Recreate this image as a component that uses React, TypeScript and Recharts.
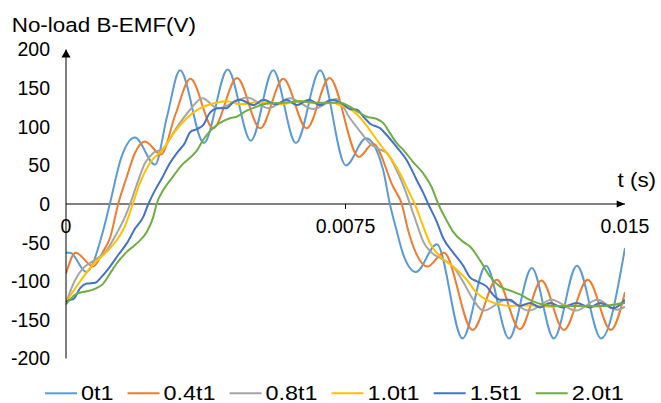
import React from 'react';
import { LineChart, Line, XAxis, YAxis, ReferenceLine, ReferenceDot } from 'recharts';

// No-load back-EMF waveforms: [time (ms), EMF (V)]
const emf0t1: [number, number][] = [
  [0, -63], [0.11, -63], [0.54, -88], [1.0, -34], [1.18, 1], [1.49, 61], [1.85, 86], [2.39, 51],
  [2.71, 113], [3.06, 173], [3.7, 79], [4.34, 174], [4.96, 82], [5.56, 173], [6.17, 79], [6.82, 173],
  [7.51, 50], [8.05, 85], [8.51, 44], [8.69, 0], [8.87, -34], [9.04, -64], [9.39, -88], [9.95, -52],
  [10.64, -174], [11.27, -80], [11.89, -174], [12.5, -83], [13.09, -174], [13.71, -80], [14.36, -174],
  [15.0, -57],
];

const emf04t1: [number, number][] = [
  [0, -90], [0.26, -63], [0.73, -81], [0.99, -62], [1.18, -44], [1.4, 0], [1.63, 35], [1.85, 66],
  [2.12, 81], [2.55, 64], [2.93, 115], [3.34, 162], [3.95, 98], [4.59, 163], [5.21, 98], [5.83, 162],
  [6.46, 98], [7.07, 163], [7.86, 61], [8.24, 78], [8.78, 22], [9.01, 0], [9.18, -34], [9.36, -60],
  [9.7, -81], [10.14, -63], [10.91, -163], [11.56, -98], [12.18, -162], [12.76, -99], [13.36, -163],
  [14.0, -98], [14.62, -163], [15.0, -114],
];

const emf08t1: [number, number][] = [
  [0, -128], [0.2, -103], [0.46, -83], [0.69, -75], [0.91, -68], [1.09, -60], [1.36, -38], [1.58, -17],
  [1.72, 0], [1.9, 25], [2.12, 53], [2.34, 66], [2.61, 72], [2.97, 99], [3.33, 122], [3.66, 137],
  [4.07, 124], [4.87, 138], [5.43, 124], [6.01, 137], [6.64, 123], [7.26, 136], [7.62, 111], [7.89, 94],
  [8.16, 78], [8.45, 70], [8.61, 66], [8.87, 44], [9.1, 18], [9.23, 0], [9.41, -25], [9.59, -49],
  [9.81, -63], [10.12, -72], [10.39, -81], [10.66, -101], [10.93, -124], [11.2, -138], [11.82, -124],
  [12.42, -138], [13.03, -124], [13.68, -138], [14.26, -124], [14.78, -137], [15.0, -133],
];

const emf10t1: [number, number][] = [
  [0, -127], [0.38, -100], [0.73, -78], [1.09, -62], [1.36, -47], [1.58, -29], [1.79, 0], [1.99, 28],
  [2.25, 53], [2.61, 71], [2.88, 91], [3.24, 111], [3.6, 124], [3.95, 130], [4.31, 133], [4.67, 129],
  [5.21, 132], [5.74, 129], [6.28, 133], [6.82, 130], [7.16, 131], [7.35, 128], [7.71, 120], [7.98, 107],
  [8.25, 89], [8.51, 72], [8.69, 61], [8.96, 40], [9.18, 18], [9.36, 0], [9.54, -23], [9.77, -51],
  [10.04, -68], [10.39, -81], [10.75, -98], [11.02, -115], [11.29, -124], [11.56, -129], [11.91, -132],
  [12.45, -131], [12.99, -133], [13.52, -131], [14.06, -133], [14.6, -131], [15.0, -127],
];

const emf15t1: [number, number][] = [
  [0, -127], [0.11, -124], [0.2, -123], [0.38, -109], [0.56, -103], [0.78, -102], [0.96, -94],
  [1.18, -81], [1.4, -66], [1.63, -51], [1.85, -32], [2.07, -17], [2.21, 0], [2.39, 18], [2.57, 33],
  [2.79, 53], [3.01, 68], [3.19, 79], [3.33, 93], [3.51, 97], [3.68, 102], [3.86, 118], [4.08, 124],
  [4.31, 124], [4.49, 132], [4.67, 135], [5.03, 128], [5.29, 135], [5.65, 129], [5.92, 135], [6.19, 128],
  [6.52, 135], [6.82, 128], [7.13, 135], [7.41, 130], [7.62, 123], [7.81, 122], [7.98, 113], [8.16, 104],
  [8.43, 98], [8.61, 89], [8.87, 74], [9.14, 57], [9.41, 31], [9.59, 14], [9.72, 0], [9.95, -23],
  [10.12, -44], [10.39, -63], [10.66, -80], [10.84, -95], [11.02, -100], [11.29, -107], [11.47, -118],
  [11.65, -124], [11.91, -124], [12.18, -132], [12.45, -128], [12.72, -134], [12.99, -128], [13.31, -134],
  [13.7, -128], [14.06, -134], [14.33, -128], [14.69, -135], [15.0, -124],
];

const emf20t1: [number, number][] = [
  [0, -130], [0.29, -116], [0.56, -113], [0.82, -109], [1.0, -103], [1.18, -90], [1.36, -77],
  [1.63, -62], [1.9, -51], [2.17, -36], [2.34, -17], [2.43, 0], [2.61, 18], [2.88, 36], [3.1, 50],
  [3.33, 60], [3.51, 69], [3.68, 83], [3.86, 94], [4.13, 105], [4.4, 111], [4.58, 113], [4.85, 121],
  [5.12, 126], [5.43, 130], [5.83, 131], [6.28, 133], [6.73, 131], [7.08, 131], [7.35, 131], [7.62, 126],
  [7.84, 119], [8.07, 113], [8.34, 110], [8.51, 105], [8.69, 92], [8.87, 79], [9.05, 70], [9.32, 54],
  [9.58, 40], [9.81, 22], [9.99, 0], [10.21, -21], [10.39, -36], [10.66, -49], [10.84, -55], [11.11, -73],
  [11.38, -94], [11.65, -107], [11.91, -112], [12.18, -117], [12.45, -124], [12.81, -130], [13.26, -132],
  [13.79, -132], [14.33, -132], [15.0, -128],
];

const seriesNames = ['0t1', '0.4t1', '0.8t1', '1.0t1', '1.5t1', '2.0t1'];
const seriesColors = ['#5B9BD5', '#ED7D31', '#A5A5A5', '#FFC000', '#4472C4', '#70AD47'];
const seriesPoints = [emf0t1, emf04t1, emf08t1, emf10t1, emf15t1, emf20t1];

const yTicks = [-200, -150, -100, -50, 0, 50, 100, 150, 200];
const xTicks = [0, 0.0075, 0.015];
const xTickLabels = ['0', '0.0075', '0.015'];

const yTitle = 'No-load B-EMF(V)';
const xTitle = 't (s)';

const FONT = '"Liberation Sans", Arial, sans-serif';
const INK = '#000';

const W = 661;
const H = 403;

const series = seriesNames.map((name, i) => ({
  name,
  color: seriesColors[i],
  data: seriesPoints[i].map(([ms, v]) => ({ t: ms / 1000, v })),
}));

// Approximate advance widths (em) for legend text layout
const charEm: Record<string, number> = { '.': 0.278, t: 0.278 };
const textEm = (s: string) => s.split('').reduce((a, c) => a + (charEm[c] ?? 0.556), 0);

const LEG_FONT = 19.5;
const LEG_SX = 1.2;
const LEG_LINE = 32;

const legendItems = (() => {
  let x = 45;
  return series.map((s) => {
    const item = { ...s, x };
    x += LEG_LINE + 4 + textEm(s.name) * LEG_FONT * LEG_SX + 14;
    return item;
  });
})();

const YArrow = (p: any) => (
  <path d={`M${p.cx},${p.cy} l-4.6,8 h9.2 z`} fill={INK} />
);

const XArrow = (p: any) => (
  <path d={`M${p.cx},${p.cy} l-8.3,-3.4 v6.8 z`} fill={INK} />
);

const makeXTick = (label: string, inner: boolean) => (p: any) => (
  <g>
    {inner && <line x1={p.cx} y1={p.cy} x2={p.cx} y2={p.cy + 5} stroke={INK} strokeWidth={1} />}
    <text x={p.cx} y={p.cy + 29} textAnchor="middle" fontSize={19.5} fontFamily={FONT} fill={INK}>
      {label}
    </text>
  </g>
);

export default function App() {
  return (
    <div style={{ position: 'absolute', left: 0, top: 0, width: W, height: H, background: '#fff' }}>
      <LineChart width={W} height={H} margin={{ top: 49.5, right: 36, bottom: 44.5, left: 0 }}>
        <XAxis type="number" dataKey="t" domain={[0, 0.015]} ticks={xTicks} allowDataOverflow hide />
        <YAxis
          type="number"
          domain={[-200, 200]}
          ticks={yTicks}
          interval={0}
          width={66}
          allowDataOverflow
          axisLine={{ stroke: INK, strokeWidth: 1 }}
          tickLine={false}
          tickMargin={10}
          tick={{ fontSize: 19.5, fill: INK, fontFamily: FONT }}
        />
        <ReferenceLine y={0} stroke={INK} strokeWidth={1} />
        {series.map((s) => (
          <Line
            key={s.name}
            name={s.name}
            data={s.data}
            dataKey="v"
            type="monotone"
            stroke={s.color}
            strokeWidth={2}
            dot={false}
            activeDot={false}
            isAnimationActive={false}
          />
        ))}
        {xTicks.map((t, i) => (
          <ReferenceDot
            key={t}
            x={t}
            y={0}
            r={0}
            shape={makeXTick(xTickLabels[i], i > 0 && i < xTicks.length - 1)}
          />
        ))}
        <ReferenceDot x={0} y={200} r={0} shape={YArrow} />
        <ReferenceDot x={0.015} y={0} r={0} shape={XArrow} />
      </LineChart>
      <svg
        width={W}
        height={H}
        style={{ position: 'absolute', left: 0, top: 0, pointerEvents: 'none' }}
      >
        <text
          transform="translate(11.7,32) scale(1.15,1)"
          fontSize={19.5}
          fontFamily={FONT}
          fill={INK}
        >
          {yTitle}
        </text>
        <text
          transform="translate(617.5,186.5) scale(1.15,1)"
          fontSize={19.5}
          fontFamily={FONT}
          fill={INK}
        >
          {xTitle}
        </text>
        {legendItems.map((it) => (
          <g key={it.name}>
            <line x1={it.x} y1={393.3} x2={it.x + LEG_LINE} y2={393.3} stroke={it.color} strokeWidth={2} />
            <text
              transform={`translate(${it.x + LEG_LINE + 4},399.5) scale(${LEG_SX},1)`}
              fontSize={LEG_FONT}
              fontFamily={FONT}
              fill={INK}
            >
              {it.name}
            </text>
          </g>
        ))}
      </svg>
    </div>
  );
}
